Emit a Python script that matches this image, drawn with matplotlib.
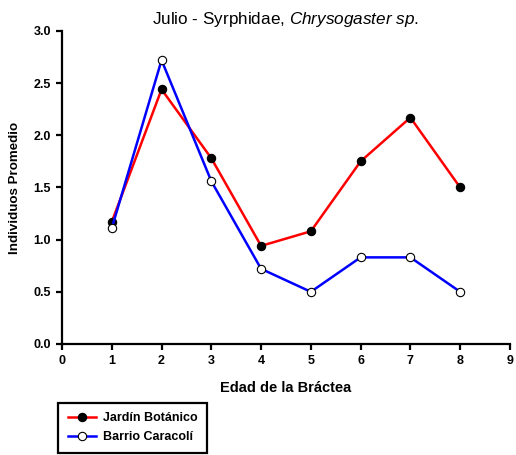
import matplotlib
matplotlib.use("Agg")
import matplotlib.pyplot as plt

plt.rcParams['font.family'] = ['Liberation Sans', 'DejaVu Sans']
plt.rcParams['mathtext.fontset'] = 'custom'
plt.rcParams['mathtext.rm'] = 'Liberation Sans'
plt.rcParams['mathtext.it'] = 'Liberation Sans:italic'

edad = [1, 2, 3, 4, 5, 6, 7, 8]
jardin_botanico = [1.17, 2.44, 1.78, 0.94, 1.08, 1.75, 2.17, 1.50]
barrio_caracoli = [1.11, 2.72, 1.56, 0.72, 0.50, 0.83, 0.83, 0.50]
x_ticks = list(range(0, 10))
y_ticks = [0.0, 0.5, 1.0, 1.5, 2.0, 2.5, 3.0]

fig = plt.figure(figsize=(5.16, 4.55), dpi=100)
ax = fig.add_axes([0.1202, 0.244, 0.868, 0.688])

ax.plot(edad, jardin_botanico, color='#ff0000', lw=1.8, marker='o', ms=6,
        mfc='black', mec='black', mew=0.8, label='Jardín Botánico', zorder=3)
ax.plot(edad, barrio_caracoli, color='#0000ff', lw=1.8, marker='o', ms=6,
        mfc='white', mec='black', mew=0.8, label='Barrio Caracolí', zorder=3)

ax.set_xlim(0, 9)
ax.set_ylim(0, 3.0)
ax.set_xticks(x_ticks)
ax.set_yticks(y_ticks)
ax.set_xticklabels([str(t) for t in x_ticks])
ax.set_yticklabels([f"{t:.1f}" for t in y_ticks])

for s in ['top', 'right']:
    ax.spines[s].set_visible(False)
for s in ['left', 'bottom']:
    ax.spines[s].set_linewidth(1.6)
ax.tick_params(direction='out', width=1.6, length=4, labelsize=9, pad=4)
for lab in ax.get_xticklabels() + ax.get_yticklabels():
    lab.set_fontweight('bold')

ax.set_xlabel('Edad de la Bráctea', fontsize=10.5, fontweight='bold', labelpad=10)
ax.set_ylabel('Individuos Promedio', fontsize=9.6, fontweight='bold', labelpad=9)
ax.set_title(r'Julio - Syrphidae, $\mathit{Chrysogaster\ sp.}$', fontsize=12.3, pad=5)

leg = fig.legend(loc='lower left', bbox_to_anchor=(0.113, 0.005), borderaxespad=0,
                 prop={'weight': 'bold', 'size': 9}, fancybox=False,
                 edgecolor='black', framealpha=1, handlelength=2.3,
                 borderpad=0.75, labelspacing=0.55, handletextpad=0.5)
leg.get_frame().set_linewidth(1.6)

fig.savefig('out.png', dpi=100)
